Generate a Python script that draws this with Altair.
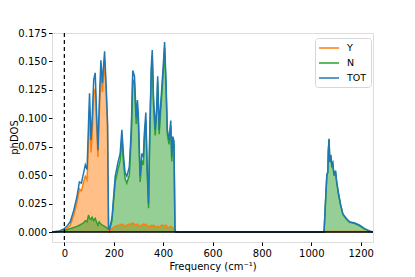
import altair as alt
import pandas as pd

# ---- data ----
FREQ = [-50, -36, -20, 0, 10, 24, 38, 51, 61, 69, 78, 85, 92, 98, 102, 108, 112, 119, 125, 132,
        136, 141, 148, 154, 163, 170, 175, 179,
        183, 193, 206, 217, 226, 233, 240, 246, 253, 263, 271, 277, 284, 291, 296, 300, 307, 314,
        320, 324, 330, 335, 341, 346, 352, 356, 361, 368, 374, 378, 384, 388, 394, 401, 406, 412,
        417, 424, 431, 435, 439, 444, 448, 452,
        460, 1050, 1052, 1057, 1063, 1067, 1069, 1072, 1075, 1079, 1083, 1087, 1092, 1098, 1103,
        1111, 1119, 1128, 1142, 1155, 1176, 1196, 1216, 1236, 1250]

TOT = [0.0, 0.0005, 0.001, 0.003, 0.005, 0.009, 0.019, 0.031, 0.044, 0.043, 0.052, 0.059, 0.055,
       0.096, 0.122, 0.081, 0.096, 0.134, 0.140, 0.096, 0.072, 0.110, 0.151, 0.131, 0.159, 0.125,
       0.096, 0.004,
       0.002, 0.013, 0.049, 0.061, 0.069, 0.090, 0.066, 0.052, 0.049, 0.057, 0.090, 0.142, 0.137,
       0.101, 0.116, 0.101, 0.049, 0.069, 0.066, 0.087, 0.105, 0.061, 0.025, 0.090, 0.145, 0.160,
       0.119, 0.090, 0.110, 0.137, 0.090, 0.105, 0.125, 0.148, 0.167, 0.131, 0.090, 0.081, 0.098,
       0.066, 0.084, 0.080, 0.002, 0.0,
       0.0, 0.0, 0.001, 0.024, 0.050, 0.053, 0.071, 0.082, 0.062, 0.068, 0.059, 0.061, 0.050,
       0.054, 0.044, 0.033, 0.024, 0.016, 0.012, 0.009, 0.008, 0.006, 0.003, 0.001, 0.0]

N = [0.0, 0.0002, 0.0004, 0.001, 0.002, 0.003, 0.004, 0.005, 0.006, 0.007, 0.008, 0.010, 0.009,
     0.015, 0.012, 0.011, 0.013, 0.010, 0.012, 0.008, 0.006, 0.009, 0.007, 0.006, 0.005, 0.004,
     0.003, 0.003,
     0.002, 0.010, 0.044, 0.055, 0.063, 0.083, 0.060, 0.047, 0.043, 0.050, 0.083, 0.134, 0.130,
     0.095, 0.109, 0.095, 0.044, 0.063, 0.059, 0.081, 0.098, 0.055, 0.021, 0.085, 0.139, 0.155,
     0.113, 0.085, 0.106, 0.132, 0.086, 0.100, 0.119, 0.142, 0.162, 0.125, 0.086, 0.077, 0.093,
     0.062, 0.080, 0.077, 0.001, 0.0,
     0.0, 0.0, 0.001, 0.0235, 0.0495, 0.0525, 0.0705, 0.0815, 0.0615, 0.0675, 0.0585, 0.0605,
     0.0495, 0.0535, 0.0435, 0.0325, 0.0235, 0.0155, 0.0115, 0.0085, 0.0075, 0.0055, 0.0025,
     0.0008, 0.0]

Y = [0.0, 0.0003, 0.0006, 0.002, 0.003, 0.006, 0.015, 0.026, 0.038, 0.036, 0.044, 0.049, 0.046,
     0.081, 0.108, 0.070, 0.083, 0.122, 0.126, 0.088, 0.066, 0.099, 0.141, 0.123, 0.150, 0.119,
     0.091, 0.001,
     0.000, 0.003, 0.005, 0.006, 0.006, 0.007, 0.006, 0.005, 0.006, 0.007, 0.007, 0.008, 0.007,
     0.006, 0.007, 0.006, 0.005, 0.006, 0.007, 0.006, 0.007, 0.006, 0.004, 0.005, 0.006, 0.005,
     0.006, 0.005, 0.004, 0.005, 0.004, 0.005, 0.006, 0.006, 0.005, 0.006, 0.004, 0.004, 0.005,
     0.004, 0.004, 0.003, 0.001, 0.0,
     0.0, 0.0, 0.0, 0.0005, 0.0005, 0.0005, 0.0005, 0.0005, 0.0005, 0.0005, 0.0005, 0.0005,
     0.0005, 0.0005, 0.0005, 0.0005, 0.0005, 0.0005, 0.0005, 0.0005, 0.0005, 0.0005, 0.0005,
     0.0002, 0.0]

SERIES = ["Y", "N", "TOT"]
COLORS = ["#ff7f0e", "#2ca02c", "#1f77b4"]
X_TICKS = [0, 200, 400, 600, 800, 1000, 1200]
Y_TICKS = [0.0, 0.025, 0.05, 0.075, 0.1, 0.125, 0.15, 0.175]

rows = []
for name, vals in zip(SERIES, [Y, N, TOT]):
    for f, v in zip(FREQ, vals):
        rows.append({"freq": f, "dos": v, "series": name})
df = pd.DataFrame(rows)

FONT = "DejaVu Sans"
xscale = alt.Scale(domain=[-50, 1250], nice=False, zero=False)
yscale = alt.Scale(domain=[-0.00875, 0.175], nice=False, zero=False)

xaxis = alt.Axis(values=X_TICKS, title="Frequency (cm⁻¹)", grid=False, format="d",
                 domain=False, tickColor="black", tickSize=3.5, labelPadding=3,
                 labelOverlap=False,
                 labelFont=FONT, labelFontSize=10, labelColor="black",
                 titleFont=FONT, titleFontSize=10, titleFontWeight="normal",
                 titleColor="black", titlePadding=3)
yaxis = alt.Axis(values=Y_TICKS, title="phDOS", grid=False, format=".3f",
                 domain=False, tickColor="black", tickSize=3.5, labelPadding=2,
                 labelOverlap=False, labelBound=False,
                 labelFont=FONT, labelFontSize=10, labelColor="black",
                 titleFont=FONT, titleFontSize=10, titleFontWeight="normal",
                 titleColor="black", titleX=-33, titleY=104)

X = alt.X("freq:Q", scale=xscale, axis=xaxis)
YENC = alt.Y("dos:Q", scale=yscale, axis=yaxis)

base = alt.Chart(df)

area_y = base.transform_filter(alt.datum.series == "Y").mark_area(
    color="#ff7f0e", opacity=0.5, clip=True, interpolate="linear"
).encode(x=X, y=YENC, y2=alt.datum(0))

area_n = base.transform_filter(alt.datum.series == "N").mark_area(
    color="#2ca02c", opacity=0.5, clip=True
).encode(x=X, y=YENC, y2=alt.datum(0))

lines = base.mark_line(strokeWidth=1.5, clip=True).encode(
    x=X, y=YENC,
    color=alt.Color("series:N", scale=alt.Scale(domain=SERIES, range=COLORS),
                    sort=SERIES,
                    legend=alt.Legend(title=None, orient="none", legendX=263, legendY=5,
                                      symbolType="M-1.2,0H2.8", symbolSize=100,
                                      symbolStrokeWidth=1.5, labelFont=FONT,
                                      labelFontSize=9.5, labelColor="black",
                                      labelOffset=16, labelLimit=60,
                                      padding=4, rowPadding=4,
                                      strokeColor="#d6d6d6", fillColor="white",
                                      cornerRadius=3)),
    detail="series:N",
    order=alt.Order("freq:Q"),
)

zero_line = alt.Chart(pd.DataFrame({"dos": [0.0]})).mark_rule(
    color="black", strokeWidth=1.5
).encode(y=YENC, x=alt.value(0), x2=alt.value(321))

vline = alt.Chart(pd.DataFrame({"freq": [0]})).mark_rule(
    color="black", strokeWidth=1.2, strokeDash=[4, 3]
).encode(x=X, y=alt.value(0), y2=alt.value(209))

chart = alt.layer(area_y, area_n, lines, zero_line, vline).properties(
    width=321, height=209,
    autosize=alt.AutoSizeParams(type="none"),
    padding={"left": 44, "top": 25, "right": 34, "bottom": 34},
).configure_view(stroke="#444444", strokeWidth=1).configure_axis(
    labelOverlap=False
).configure(background="white")

chart.save("out.html", embed_options={"renderer": "svg", "actions": False})
